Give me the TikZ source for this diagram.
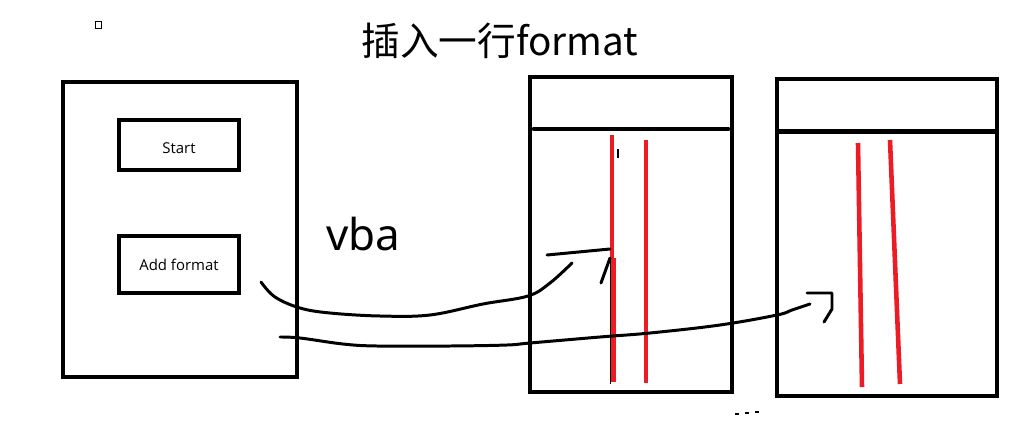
\documentclass[tikz,border=0pt]{standalone}
\usepackage{fontspec}
\setmainfont{Open Sans}
\newfontfamily\cjkfont{Noto Sans CJK SC}
\newfontfamily\handfont{Noto Sans}
\usepackage{xcolor}
\usetikzlibrary{positioning}
\definecolor{paintred}{RGB}{237,28,36}
\tikzstyle{panel} = [rectangle, draw=black, line width=2.8pt, inner sep=0pt]
\tikzstyle{button} = [panel, minimum width=2.4cm, minimum height=1cm,
    font=\fontsize{8.5}{10}\selectfont]
\tikzstyle{headline} = [line width=2.8pt, line cap=round]
\tikzstyle{redline} = [draw=paintred, line width=2.4pt]
\tikzstyle{pen} = [line width=1.7pt, line cap=round, line join=round]

\begin{document}
\begin{tikzpicture}[x=0.02cm, y=-0.02cm]
  \useasboundingbox (0,0) rectangle (1029,447);

  \node[draw, line width=0.6pt, minimum size=0.13cm, inner sep=0pt](dot) at (98.5,25){};
  \node[font=\cjkfont\fontsize{22}{24}\selectfont](title) at (500,41){插入一行format};
  \node[anchor=base, font=\handfont\fontsize{25}{28}\selectfont](vba) at (363,250){vba};

  \node[panel, minimum width=4.68cm, minimum height=5.9cm](form) at (180,229.5){};
  \node[button, text height=9.5pt](start) at (179,145){Start};
  \node[button, minimum height=1.14cm](addfmt) at (179,264.5){Add format};

  \node[panel, minimum width=4.04cm, minimum height=6.3cm](sheetA) at (631,234.5){};
  \node[panel, minimum width=4.4cm, minimum height=6.34cm](sheetB) at (887,237.5){};
  \draw[headline](534,129)--(728,129);
  \draw[line width=2.8pt](777,131.5)--(997,131.5);

  \draw[line width=1.1pt](610.5,258)--(610.5,384);
  \draw[redline](612,135)--(612,258);
  \draw[redline](613.5,258)--(613.5,382);
  \draw[redline](646,140)--(646,383);
  \draw[line width=0.6pt](618,149)--(618,158);
  \draw[redline, line width=2.6pt](858,143)--(862,387);
  \draw[redline, line width=2.6pt](890,140)--(900,384);

  \coordinate(c1s) at (261,282);
  \coordinate(c1e) at (572,263);
  \coordinate(tip1) at (610,249);
  \draw[pen] plot[smooth, tension=0.6] coordinates {(c1s) (275,297) (300,308)
    (330,313) (380,316) (430,315) (483,304) (528,296) (550,283) (c1e)};
  \draw[pen](547,255)--(tip1);
  \draw[pen](601,283)--(610,258);

  \coordinate(c2s) at (280,337);
  \coordinate(c2e) at (810,304);
  \draw[pen] plot[smooth, tension=0.6] coordinates {(c2s) (300,338) (343,344)
    (377,346) (450,346) (507,345) (530,343) (600,337) (650,333) (720,325)
    (777,315) (792,310) (c2e)};
  \draw[pen](807,293)--(832,293)--(832,309)--(824,322);

  \foreach \x/\y in {737/414, 747/413, 757/412}
    \draw[line width=1.6pt](\x-2,\y)--(\x+2,\y);
\end{tikzpicture}
\end{document}
